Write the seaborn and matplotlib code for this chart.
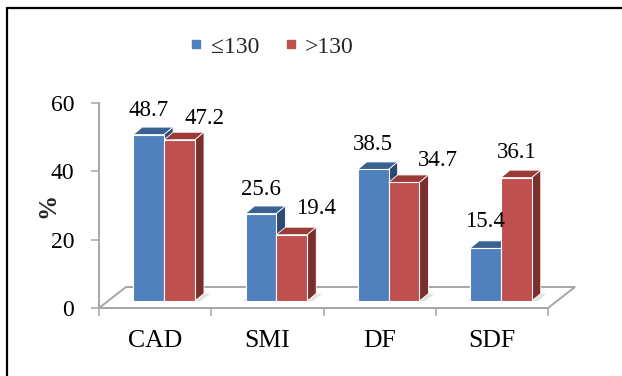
import numpy as np
import pandas as pd
import seaborn as sns
import matplotlib
matplotlib.use("Agg")
import matplotlib.pyplot as plt
from matplotlib.patches import Polygon
from matplotlib.lines import Line2D
from matplotlib.colors import to_rgb
from matplotlib.transforms import ScaledTranslation

# ---- data -------------------------------------------------------------
categories = ["CAD", "SMI", "DF", "SDF"]
groups = ["≤130", ">130"]
pct_low = [48.7, 25.6, 38.5, 15.4]
pct_high = [47.2, 19.4, 34.7, 36.1]
y_ticks = [0, 20, 40, 60]

# ---- styling ----------------------------------------------------------
front_colors = ["#4F81BD", "#C0504D"]
top_colors = ["#3A6194", "#9B3B38"]
side_colors = ["#2C4A72", "#7B2E2C"]
axis_gray = "#A6A6A6"

# value-label nudges (pixels) from the front-top centre of each bar
label_dx = [[0, 0, 0, 0], [25, 24, 34, 0]]
label_dy = [[24, 24, 25, 27], [21, 26, 22, 25]]

df = pd.DataFrame({
    "category": categories * 2,
    "group": [groups[0]] * len(categories) + [groups[1]] * len(categories),
    "pct": pct_low + pct_high,
})

sns.set_theme(style="white")
plt.rcParams["font.family"] = ["Liberation Serif", "DejaVu Serif"]

DPI = 100
W, H = 622, 376
fig = plt.figure(figsize=(W / DPI, H / DPI), dpi=DPI)
ax_l, ax_b, ax_w, ax_h = 99, 68, 449, 205
ax = fig.add_axes([ax_l / W, ax_b / H, ax_w / W, ax_h / H])
ax.set_facecolor("none")

sns.barplot(data=df, x="category", y="pct", hue="group", order=categories,
            hue_order=groups, palette=front_colors, saturation=1, width=0.55,
            errorbar=None, edgecolor="white", linewidth=0.8, legend=False, ax=ax)

ax.set_xlim(-0.5, len(categories) - 0.5)
ax.set_ylim(y_ticks[0], y_ticks[-1])

px_x = ax_w / len(categories)
px_y = ax_h / (y_ticks[-1] - y_ticks[0])


def px(dx, dy):
    """Convert a pixel offset to data units."""
    return dx / px_x, dy / px_y


# floor of the 3-D plot area
fdx, fdy = px(27, 21)
x0, x1 = -0.5, len(categories) - 0.5
floor = Polygon([(x0, 0), (x1, 0), (x1 + fdx, fdy), (x0 + fdx, fdy)],
                closed=True, facecolor="white", edgecolor=axis_gray,
                linewidth=1.4, zorder=0.5, clip_on=False)
ax.add_patch(floor)

# bars stand one third of the way into the floor
bar_trans = ax.transData + ScaledTranslation(9 / DPI, 7 / DPI, fig.dpi_scale_trans)
ddx, ddy = px(9, 7.5)
sdx, sdy = px(6, 0)

bars = [p for p in ax.patches if p is not floor]
for p in bars:
    g = 0 if np.allclose(p.get_facecolor()[:3], to_rgb(front_colors[0])) else 1
    x, w, h = p.get_x(), p.get_width(), p.get_height()
    base_z = 2 + 2 * g
    p.set_transform(bar_trans)
    p.set_zorder(base_z + 0.5)
    # soft shadow on the floor
    shadow = Polygon([(x - sdx * 0.5, 0), (x + w + sdx, 0),
                      (x + w + ddx + sdx, ddy), (x + ddx, ddy)],
                     closed=True, facecolor="#BFBFBF", edgecolor="none",
                     alpha=0.45, transform=bar_trans, zorder=1, clip_on=False)
    ax.add_patch(shadow)
    top = Polygon([(x, h), (x + w, h), (x + w + ddx, h + ddy), (x + ddx, h + ddy)],
                  closed=True, facecolor=top_colors[g], edgecolor="white",
                  linewidth=0.6, transform=bar_trans, zorder=base_z, clip_on=False)
    side = Polygon([(x + w, 0), (x + w, h), (x + w + ddx, h + ddy), (x + w + ddx, ddy)],
                   closed=True, facecolor=side_colors[g], edgecolor="white",
                   linewidth=0.6, transform=bar_trans, zorder=base_z, clip_on=False)
    ax.add_patch(top)
    ax.add_patch(side)
    i = int(round(x + w / 2 + (0.5 - g) * w))  # category index
    i = min(max(i, 0), len(categories) - 1)
    ax.annotate(f"{h:.1f}", xy=(x + w / 2, h), xycoords=bar_trans,
                xytext=(label_dx[g][i], label_dy[g][i]), textcoords="offset pixels",
                ha="center", va="center", fontsize=16.5, color="black",
                zorder=8, annotation_clip=False)

# axes, ticks and labels
for s in ["top", "right"]:
    ax.spines[s].set_visible(False)
ax.spines["left"].set_color(axis_gray)
ax.spines["left"].set_linewidth(1.4)
ax.spines["bottom"].set_color(axis_gray)
ax.spines["bottom"].set_linewidth(1.4)

ax.set_yticks(y_ticks)
ax.tick_params(axis="y", left=True, length=6, width=1.1, color=axis_gray,
               pad=12, labelsize=17, labelcolor="black")
ax.set_xticks(np.arange(-0.5, len(categories), 1), minor=True)
ax.tick_params(axis="x", which="major", length=0, pad=16, labelsize=18.5,
               labelcolor="black")
ax.tick_params(axis="x", which="minor", bottom=True, length=6, width=1.1,
               color=axis_gray)

ax.set_xlabel("")
ax.set_ylabel("%", fontsize=18, fontweight="bold", va="center")
ax.yaxis.set_label_coords(-51 / ax_w, (308 - 205) / ax_h)

handles = [Line2D([], [], marker="s", linestyle="", markersize=6,
                  markerfacecolor=c, markeredgecolor=c) for c in front_colors]
fig.legend(handles, groups, loc="center", bbox_to_anchor=(271 / W, 1 - 47 / H),
           ncol=2, frameon=False, fontsize=17, handlelength=0.7,
           handletextpad=0.25, columnspacing=1.0)

# chart frame (left and top edges)
fig.add_artist(Line2D([7 / W, 7 / W], [0, 1 - 8 / H], color="black", lw=1.6))
fig.add_artist(Line2D([7 / W, 1], [1 - 8 / H, 1 - 8 / H], color="black", lw=1.6))

fig.savefig("out.png", dpi=DPI)
